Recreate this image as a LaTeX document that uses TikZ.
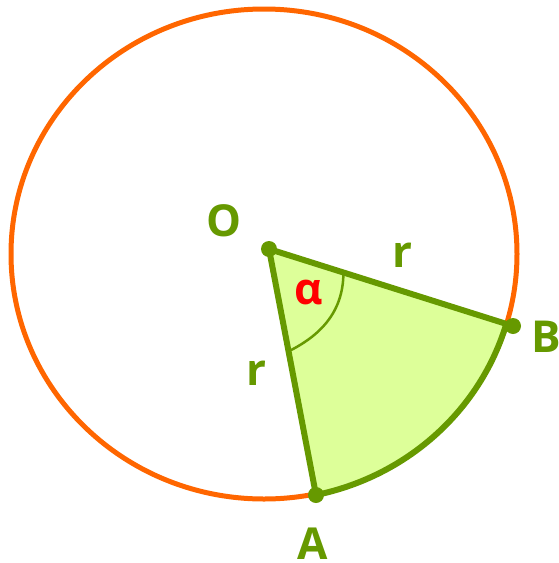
\documentclass[tikz,border=0pt]{standalone}
\usepackage{fontspec}
\setmainfont{Open Sans}
\usetikzlibrary{calc}
\definecolor{ciOrange}{HTML}{FF6600}
\definecolor{ciGreen}{HTML}{669900}
\definecolor{ciFill}{HTML}{DDFF99}
\definecolor{ciRed}{HTML}{FF0000}
\tikzset{
  rim/.style={draw=ciOrange, line width=5pt},
  sector/.style={draw=ciGreen, fill=ciFill, line width=6pt, line join=round},
  angarc/.style={draw=ciGreen, line width=2.5pt},
  ptdot/.style={circle, fill=ciGreen, inner sep=0pt, minimum size=16pt},
  ptlabel/.style={text=ciGreen, inner sep=0pt, font=\fontsize{44}{50}\selectfont\bfseries},
  anglabel/.style={ptlabel, text=ciRed}
}

\begin{document}
\begin{tikzpicture}[x=1pt, y=-1pt]
  \useasboundingbox (0,0) rectangle (558,563);
  \coordinate (M) at (264,254);
  \coordinate (O) at (269,249);
  \coordinate (A) at (316,495);
  \coordinate (B) at (513,326);
  % circle and sector
  \draw[rim] (M) ellipse [x radius=253, y radius=245];
  \filldraw[sector] (O) -- (A) arc [start angle=78, end angle=17, x radius=253, y radius=245] -- (B) -- cycle;
  % angle mark
  \coordinate (a1) at ($(O)!0.305!(B)$);
  \coordinate (a2) at ($(O)!0.416!(A)$);
  \draw[angarc] (a1) .. controls +(0,41) and +(30,-15) .. (a2);
  % points
  \node[ptdot] (dO) at (O) {};
  \node[ptdot] (dA) at (A) {};
  \node[ptdot] (dB) at (B) {};
  % labels
  \node[ptlabel] (labO) at (224,221) {O};
  \node[ptlabel] (labA) at (313,544) {A};
  \node[ptlabel] (labB) at (546,337) {B};
  \node[ptlabel] (labR1) at (402,255) {r};
  \node[ptlabel] (labR2) at (256,373) {r};
  \node[anglabel] (labAlpha) at (309,292) {α};
\end{tikzpicture}
\end{document}
